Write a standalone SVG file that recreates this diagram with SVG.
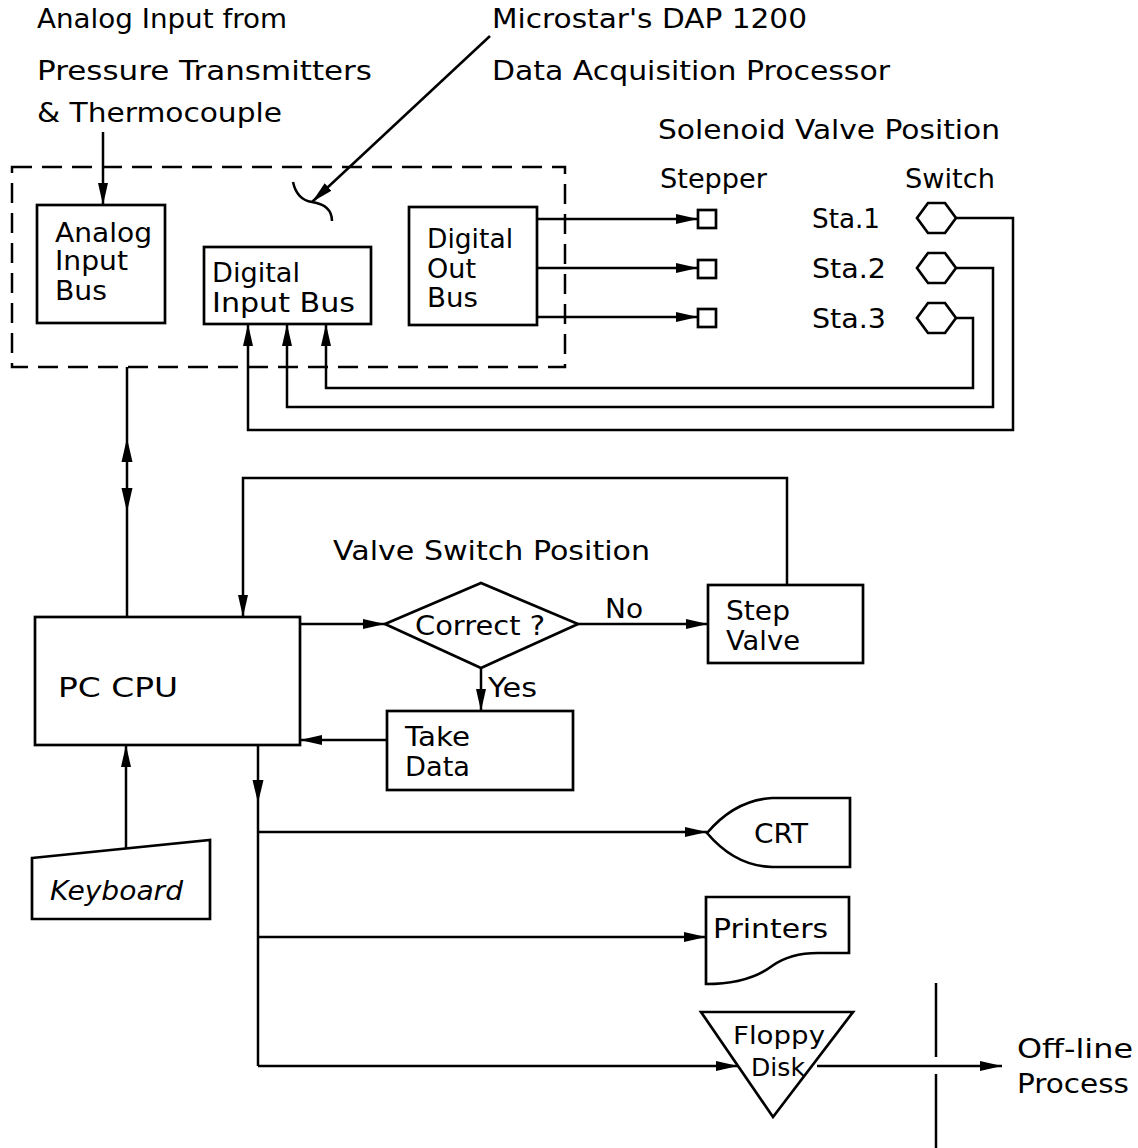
<svg xmlns="http://www.w3.org/2000/svg" width="1138" height="1148" viewBox="0 0 1138 1148">
<style>
  .bg{fill:#fff}
  .s{fill:none;stroke:#000;stroke-width:2.7;stroke-linejoin:miter}
  .d{fill:none;stroke:#000;stroke-width:2.5;stroke-dasharray:20 10}
  .c{fill:none;stroke:#000;stroke-width:2.5}
  .ca{fill:none;stroke:#000;stroke-width:2.5;marker-end:url(#ah)}
  text{font-family:"DejaVu Sans","Liberation Sans",Arial,sans-serif;font-size:26px;fill:#000}
  .it{font-style:italic}
  .sm{font-size:24px}
  .hd{fill:#000}
</style>
<defs>
  <marker id="ah" viewBox="0 0 22 11" refX="22" refY="5.5" markerWidth="22" markerHeight="11" markerUnits="userSpaceOnUse" orient="auto">
    <path d="M0,0.5 L22,5.5 L0,10.5 z" fill="#000"/>
  </marker>
</defs>
<rect class="bg" x="0" y="0" width="1138" height="1148"/>

<g id="labels">
  <text x="37" y="28" textLength="250" lengthAdjust="spacingAndGlyphs">Analog Input from</text>
  <text x="37" y="80" textLength="335" lengthAdjust="spacingAndGlyphs">Pressure Transmitters</text>
  <text x="37" y="122" textLength="245" lengthAdjust="spacingAndGlyphs">&amp; Thermocouple</text>
  <text x="492" y="28" textLength="315" lengthAdjust="spacingAndGlyphs">Microstar's DAP 1200</text>
  <text x="492" y="80" textLength="398" lengthAdjust="spacingAndGlyphs">Data Acquisition Processor</text>
  <text x="658" y="139" textLength="342" lengthAdjust="spacingAndGlyphs">Solenoid Valve Position</text>
  <text x="660" y="188" textLength="107" lengthAdjust="spacingAndGlyphs">Stepper</text>
  <text x="905" y="188" textLength="90" lengthAdjust="spacingAndGlyphs">Switch</text>
  <text x="333" y="560" textLength="317" lengthAdjust="spacingAndGlyphs">Valve Switch Position</text>
  <text x="605" y="618" textLength="38" lengthAdjust="spacingAndGlyphs">No</text>
  <text x="488" y="697" textLength="49" lengthAdjust="spacingAndGlyphs">Yes</text>
</g>

<g id="dap">
  <rect class="d" x="12" y="167" width="553" height="200"/>
  <path class="c" d="M293,182 Q297,200 312,202 Q332,205 332,221"/>
</g>

<g id="analog-input-bus">
  <rect class="s" x="37" y="205" width="128" height="118"/>
  <text x="55" y="242" textLength="97" lengthAdjust="spacingAndGlyphs">Analog</text>
  <text x="55" y="270" textLength="73" lengthAdjust="spacingAndGlyphs">Input</text>
  <text x="55" y="300" textLength="52" lengthAdjust="spacingAndGlyphs">Bus</text>
</g>

<g id="digital-input-bus">
  <rect class="s" x="204" y="247" width="167" height="77"/>
  <text x="212" y="282" textLength="88" lengthAdjust="spacingAndGlyphs">Digital</text>
  <text x="212" y="312" textLength="143" lengthAdjust="spacingAndGlyphs">Input  Bus</text>
</g>

<g id="digital-out-bus">
  <rect class="s" x="409" y="207" width="128" height="118"/>
  <text x="427" y="248" textLength="86" lengthAdjust="spacingAndGlyphs">Digital</text>
  <text x="427" y="278" textLength="49" lengthAdjust="spacingAndGlyphs">Out</text>
  <text x="427" y="307" textLength="51" lengthAdjust="spacingAndGlyphs">Bus</text>
</g>

<g id="steppers">
  <rect class="s" x="698" y="210" width="18" height="18"/>
  <rect class="s" x="698" y="260" width="18" height="18"/>
  <rect class="s" x="698" y="309" width="18" height="18"/>
</g>

<g id="switches">
  <text x="812" y="228" textLength="68" lengthAdjust="spacingAndGlyphs">Sta.1</text>
  <text x="812" y="278" textLength="74" lengthAdjust="spacingAndGlyphs">Sta.2</text>
  <text x="812" y="328" textLength="74" lengthAdjust="spacingAndGlyphs">Sta.3</text>
  <polygon class="s" points="917,218 928,203 945,203 956,218 945,233 928,233"/>
  <polygon class="s" points="917,268 928,253 945,253 956,268 945,283 928,283"/>
  <polygon class="s" points="917,318 928,303 945,303 956,318 945,333 928,333"/>
</g>

<g id="pc-cpu">
  <rect class="s" x="35" y="617" width="265" height="128"/>
  <text x="58" y="697" textLength="120" lengthAdjust="spacingAndGlyphs">PC CPU</text>
</g>

<g id="decision">
  <polygon class="s" points="385,624 481,583 578,624 481,668"/>
  <text x="415" y="635" textLength="130" lengthAdjust="spacingAndGlyphs">Correct ?</text>
</g>

<g id="step-valve">
  <rect class="s" x="708" y="585" width="155" height="78"/>
  <text x="726" y="620" textLength="64" lengthAdjust="spacingAndGlyphs">Step</text>
  <text x="726" y="650" textLength="74" lengthAdjust="spacingAndGlyphs">Valve</text>
</g>

<g id="take-data">
  <rect class="s" x="387" y="711" width="186" height="79"/>
  <text x="405" y="746" textLength="65" lengthAdjust="spacingAndGlyphs">Take</text>
  <text x="405" y="776" textLength="65" lengthAdjust="spacingAndGlyphs">Data</text>
</g>

<g id="keyboard">
  <polygon class="s" points="32,858 210,840 210,919 32,919"/>
  <text class="it" x="50" y="900" textLength="133" lengthAdjust="spacingAndGlyphs">Keyboard</text>
</g>

<g id="crt">
  <path class="s" d="M707,833 Q735,800 772,798 L850,798 L850,867 L772,867 Q735,866 707,833 Z"/>
  <text x="754" y="843" textLength="54" lengthAdjust="spacingAndGlyphs">CRT</text>
</g>

<g id="printers">
  <path class="s" d="M706,897 L849,897 L849,953 L818,953 Q790,953 772,966 Q748,984 706,984 Z"/>
  <text x="713" y="938" textLength="115" lengthAdjust="spacingAndGlyphs">Printers</text>
</g>

<g id="floppy">
  <polygon class="s" points="701,1012 853,1012 773,1117"/>
  <text class="sm" x="733" y="1044" textLength="92" lengthAdjust="spacingAndGlyphs">Floppy</text>
  <text class="sm" x="751" y="1076" textLength="54" lengthAdjust="spacingAndGlyphs">Disk</text>
</g>

<g id="offline">
  <text x="1017" y="1058" textLength="116" lengthAdjust="spacingAndGlyphs">Off-line</text>
  <text x="1017" y="1093" textLength="112" lengthAdjust="spacingAndGlyphs">Process</text>
  <line class="c" x1="936" y1="983" x2="936" y2="1057"/>
  <line class="c" x1="936" y1="1074" x2="936" y2="1148"/>
</g>

<g id="connectors">
  <line class="ca" x1="103" y1="132" x2="103" y2="205"/>
  <line class="ca" x1="490" y1="36" x2="312" y2="202"/>
  <line class="ca" x1="537" y1="219" x2="698" y2="219"/>
  <line class="ca" x1="537" y1="268" x2="698" y2="268"/>
  <line class="ca" x1="537" y1="317" x2="698" y2="317"/>
  <polyline class="ca" points="956,318 973,318 973,388 326,388 326,324"/>
  <polyline class="ca" points="956,268 993,268 993,407 287,407 287,324"/>
  <polyline class="ca" points="956,218 1013,218 1013,430 248,430 248,324"/>
  <line class="c" x1="127" y1="367" x2="127" y2="617"/>
  <polygon class="hd" points="127,438 121.5,462 132.5,462"/>
  <polygon class="hd" points="127,512 121.5,488 132.5,488"/>
  <polyline class="ca" points="787,585 787,478 243,478 243,617"/>
  <line class="ca" x1="300" y1="624" x2="385" y2="624"/>
  <line class="ca" x1="578" y1="624" x2="708" y2="624"/>
  <line class="ca" x1="481" y1="668" x2="481" y2="711"/>
  <line class="ca" x1="387" y1="740" x2="300" y2="740"/>
  <line class="ca" x1="126" y1="849" x2="126" y2="745"/>
  <line class="c" x1="258" y1="745" x2="258" y2="1066"/>
  <polygon class="hd" points="258,803 252.5,780 263.5,780"/>
  <line class="ca" x1="258" y1="832" x2="707" y2="832"/>
  <line class="ca" x1="258" y1="937" x2="706" y2="937"/>
  <line class="ca" x1="258" y1="1066" x2="738" y2="1066"/>
  <line class="ca" x1="817" y1="1066" x2="1002" y2="1066"/>
</g>
</svg>
